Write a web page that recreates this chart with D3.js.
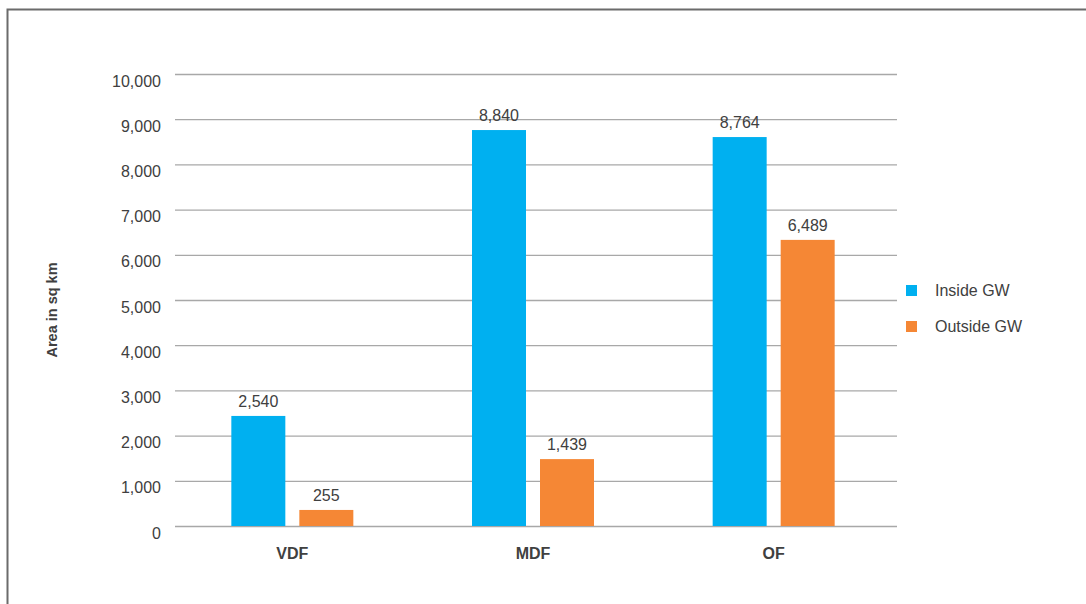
<!DOCTYPE html>
<html>
<head>
<meta charset="utf-8">
<script src="https://cdn.jsdelivr.net/npm/d3@7"></script>
<style>
  body { margin: 0; background: #fff; }
  text { font-family: "Liberation Sans", Arial, sans-serif; fill: #404040; }
</style>
</head>
<body>
<div id="chart"></div>
<script>
// categories and series
var categories = ["VDF", "MDF", "OF"];
var seriesNames = ["Inside GW", "Outside GW"];
// bar heights as drawn in the picture
var insideValues = [2435, 8760, 8605];
var outsideValues = [355, 1480, 6330];
// value labels as printed above the bars
var insideLabels = ["2,540", "8,840", "8,764"];
var outsideLabels = ["255", "1,439", "6,489"];
var yTicks = [0, 1000, 2000, 3000, 4000, 5000, 6000, 7000, 8000, 9000, 10000];

var colors = ["#00b0f0", "#f58735"];

var width = 1086, height = 604;

var svg = d3.select("#chart").append("svg")
  .attr("width", width)
  .attr("height", height);

// outer frame (only top and left edges show)
svg.append("path")
  .attr("d", "M7.5," + height + "V9.5H" + width)
  .attr("fill", "none")
  .attr("stroke", "#6b6b6b")
  .attr("stroke-width", 2);

// scales
var y = d3.scaleLinear().domain([0, 10000]).range([526, 74]);
var x0 = d3.scaleBand().domain(categories).range([172, 894]);
var x1 = d3.scaleBand().domain(seriesNames).range([0, 122]).paddingInner(0.206);

// gridlines + y axis labels
var yAxis = svg.append("g")
  .attr("transform", "translate(175,0)")
  .call(d3.axisLeft(y).tickValues(yTicks).tickSize(-722).tickFormat(d3.format(",")));
yAxis.select(".domain").remove();
yAxis.selectAll(".tick line")
  .attr("stroke", "#a8a8a8")
  .attr("stroke-width", 1.3);
yAxis.selectAll(".tick text")
  .attr("x", -14)
  .attr("y", 12)
  .attr("dy", null)
  .attr("fill", "#404040")
  .style("font-size", "16px")
  .style("font-family", "'Liberation Sans', Arial, sans-serif");

// bars
var rows = categories.map(function (c, i) {
  return {
    cat: c,
    vals: [
      { s: seriesNames[0], v: insideValues[i], label: insideLabels[i], k: 0 },
      { s: seriesNames[1], v: outsideValues[i], label: outsideLabels[i], k: 1 }
    ]
  };
});

var groups = svg.selectAll(".grp")
  .data(rows)
  .enter().append("g")
  .attr("class", "grp")
  .attr("transform", function (d) {
    return "translate(" + (x0(d.cat) + (x0.bandwidth() - 122) / 2) + ",0)";
  });

groups.selectAll("rect")
  .data(function (d) { return d.vals; })
  .enter().append("rect")
  .attr("x", function (d) { return x1(d.s); })
  .attr("width", x1.bandwidth())
  .attr("y", function (d) { return y(d.v); })
  .attr("height", function (d) { return y(0) - y(d.v); })
  .attr("fill", function (d) { return colors[d.k]; });

groups.selectAll(".val")
  .data(function (d) { return d.vals; })
  .enter().append("text")
  .attr("class", "val")
  .attr("x", function (d) { return x1(d.s) + x1.bandwidth() / 2; })
  .attr("y", function (d) { return y(d.v) - 9; })
  .attr("text-anchor", "middle")
  .style("font-size", "16px")
  .text(function (d) { return d.label; });

// category labels
svg.selectAll(".cat")
  .data(categories)
  .enter().append("text")
  .attr("class", "cat")
  .attr("x", function (d) { return x0(d) + x0.bandwidth() / 2; })
  .attr("y", 559)
  .attr("text-anchor", "middle")
  .style("font-size", "16px")
  .style("font-weight", "bold")
  .text(function (d) { return d; });

// y axis title
svg.append("text")
  .attr("transform", "translate(57,310) rotate(-90)")
  .attr("text-anchor", "middle")
  .style("font-size", "14.5px")
  .style("font-weight", "bold")
  .text("Area in sq km");

// legend
var legend = svg.selectAll(".leg")
  .data(seriesNames)
  .enter().append("g")
  .attr("class", "leg")
  .attr("transform", function (d, i) { return "translate(906," + (285 + i * 36) + ")"; });

legend.append("rect")
  .attr("width", 11)
  .attr("height", 11)
  .attr("fill", function (d, i) { return colors[i]; });

legend.append("text")
  .attr("x", 29)
  .attr("y", 11)
  .style("font-size", "16px")
  .text(function (d) { return d; });
</script>
</body>
</html>
